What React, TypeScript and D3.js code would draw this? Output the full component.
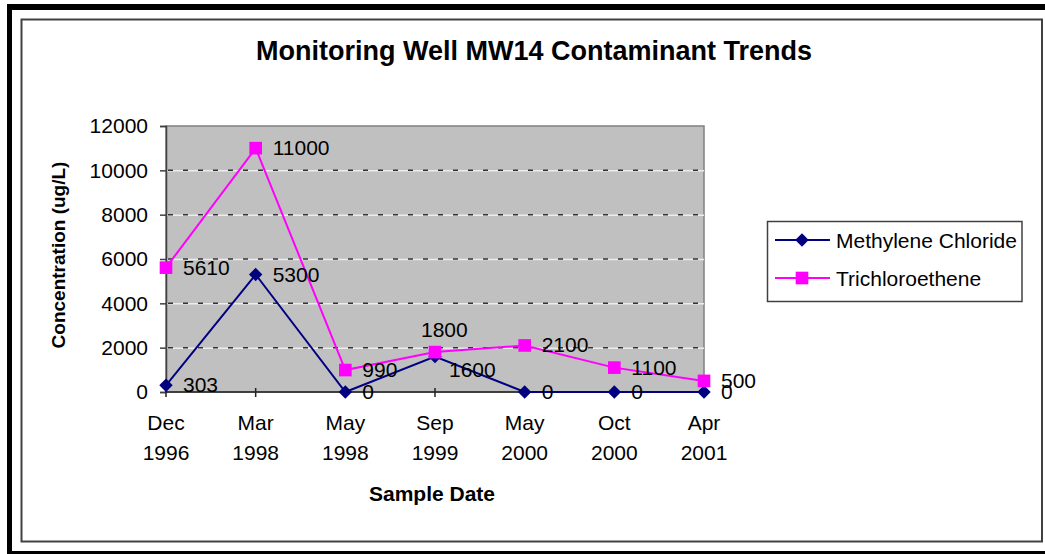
import React, { useEffect, useRef } from "react";
import * as d3 from "d3";

const months = ["Dec", "Mar", "May", "Sep", "May", "Oct", "Apr"];
const years = ["1996", "1998", "1998", "1999", "2000", "2000", "2001"];
const methyleneChloride = [303, 5300, 0, 1600, 0, 0, 0];
const trichloroethene = [5610, 11000, 990, 1800, 2100, 1100, 500];
const yTicks = [0, 2000, 4000, 6000, 8000, 10000, 12000];

// labels that were dragged by hand in the original (series, index, dx, dy)
const labelNudges = [
  { series: "tce", index: 3, dx: -31, dy: -22 },
  { series: "mc", index: 3, dx: -3, dy: 13 },
];

const FONT = "Liberation Sans, Arial, sans-serif";

// excel style diamond: as wide as it is tall
const diamond = {
  draw(ctx: d3.Path, size: number) {
    const r = Math.sqrt(size / 2);
    ctx.moveTo(0, -r);
    ctx.lineTo(r, 0);
    ctx.lineTo(0, r);
    ctx.lineTo(-r, 0);
    ctx.closePath();
  },
};

function App() {
  const svgRef = useRef<SVGSVGElement>(null);

  useEffect(() => {
    const svg = d3.select(svgRef.current);
    svg.selectAll("*").remove();

    const W = 1045;
    const plot = { left: 166, right: 704, top: 126, bottom: 392 };
    const cats = months.map((m, i) => `${m} ${years[i]}`);

    // frame
    svg.append("rect").attr("x", 7).attr("y", 4).attr("width", W).attr("height", 551).attr("fill", "#000");
    svg.append("rect").attr("x", 12).attr("y", 10).attr("width", W).attr("height", 541).attr("fill", "#fff");
    svg
      .append("rect")
      .attr("x", 21.5)
      .attr("y", 19.5)
      .attr("width", 1020.5)
      .attr("height", 522)
      .attr("fill", "none")
      .attr("stroke", "#404040")
      .attr("stroke-width", 2);

    const x = d3.scalePoint<string>().domain(cats).range([plot.left, plot.right]);
    const y = d3.scaleLinear().domain([0, 12000]).range([plot.bottom, plot.top]);

    // plot area
    svg
      .append("rect")
      .attr("x", plot.left)
      .attr("y", plot.top)
      .attr("width", plot.right - plot.left)
      .attr("height", plot.bottom - plot.top)
      .attr("fill", "#c0c0c0")
      .attr("stroke", "#808080")
      .attr("stroke-width", 1.5);

    // gridlines
    const grid = svg.append("g");
    yTicks
      .filter((t) => t > 0 && t < 12000)
      .forEach((t) => {
        grid
          .append("line")
          .attr("x1", plot.left)
          .attr("x2", plot.right)
          .attr("y1", y(t) + 0.5)
          .attr("y2", y(t) + 0.5)
          .attr("stroke", "#ececec")
          .attr("stroke-width", 1.5);
        grid
          .append("line")
          .attr("x1", plot.left + 2)
          .attr("x2", plot.right)
          .attr("y1", y(t))
          .attr("y2", y(t))
          .attr("stroke", "#333")
          .attr("stroke-width", 1.5)
          .attr("stroke-dasharray", "5,10");
      });

    // y axis
    const yAxis = svg
      .append("g")
      .attr("transform", `translate(${plot.left},0)`)
      .call(d3.axisLeft(y).tickValues(yTicks).tickSize(6).tickPadding(12).tickFormat(d3.format("d")));
    yAxis.select(".domain").attr("stroke", "#404040").attr("stroke-width", 1.5);
    yAxis.selectAll(".tick line").attr("stroke", "#404040").attr("stroke-width", 1.5);
    yAxis.selectAll("text").attr("font-family", FONT).attr("font-size", 21).attr("fill", "#000");

    // x axis
    svg
      .append("line")
      .attr("x1", plot.left)
      .attr("x2", plot.right)
      .attr("y1", plot.bottom)
      .attr("y2", plot.bottom)
      .attr("stroke", "#222")
      .attr("stroke-width", 1.5);
    const xAxis = svg.append("g");
    cats.forEach((c, i) => {
      xAxis
        .append("line")
        .attr("x1", x(c)!)
        .attr("x2", x(c)!)
        .attr("y1", plot.bottom - 4)
        .attr("y2", plot.bottom + 5)
        .attr("stroke", "#222")
        .attr("stroke-width", 1.5);
      const t = xAxis
        .append("text")
        .attr("x", x(c)!)
        .attr("text-anchor", "middle")
        .attr("font-family", FONT)
        .attr("font-size", 21);
      t.append("tspan").attr("x", x(c)!).attr("y", 430).text(months[i]);
      t.append("tspan").attr("x", x(c)!).attr("y", 460).text(years[i]);
    });

    // series
    const series = [
      { key: "mc", name: "Methylene Chloride", values: methyleneChloride, color: "#000080", shape: diamond, size: 90 },
      { key: "tce", name: "Trichloroethene", values: trichloroethene, color: "#ff00ff", shape: d3.symbolSquare, size: 160 },
    ];

    const line = d3
      .line<number>()
      .x((_, i) => x(cats[i])!)
      .y((d) => y(d));

    series.forEach((s) => {
      svg
        .append("path")
        .datum(s.values)
        .attr("d", line)
        .attr("fill", "none")
        .attr("stroke", s.color)
        .attr("stroke-width", 2);
    });

    series.forEach((s) => {
      svg
        .append("g")
        .selectAll("path")
        .data(s.values)
        .enter()
        .append("path")
        .attr("transform", (d, i) => `translate(${x(cats[i])},${y(d)})`)
        .attr("d", d3.symbol().type(s.shape).size(s.size)())
        .attr("fill", s.color);
    });

    // data labels
    series.forEach((s) => {
      svg
        .append("g")
        .selectAll("text")
        .data(s.values)
        .enter()
        .append("text")
        .attr("x", (d, i) => {
          const n = labelNudges.find((l) => l.series === s.key && l.index === i);
          return x(cats[i])! + 17 + (n ? n.dx : 0);
        })
        .attr("y", (d, i) => {
          const n = labelNudges.find((l) => l.series === s.key && l.index === i);
          return y(d) + 7 + (n ? n.dy : 0);
        })
        .attr("font-family", FONT)
        .attr("font-size", 21)
        .attr("fill", "#000")
        .text((d) => d);
    });

    // titles
    svg
      .append("text")
      .attr("x", 534)
      .attr("y", 60)
      .attr("text-anchor", "middle")
      .attr("font-family", FONT)
      .attr("font-weight", "bold")
      .attr("font-size", 27)
      .text("Monitoring Well MW14 Contaminant Trends");
    svg
      .append("text")
      .attr("x", 432)
      .attr("y", 501)
      .attr("text-anchor", "middle")
      .attr("font-family", FONT)
      .attr("font-weight", "bold")
      .attr("font-size", 21)
      .text("Sample Date");
    svg
      .append("text")
      .attr("transform", "translate(65,255) rotate(-90)")
      .attr("text-anchor", "middle")
      .attr("font-family", FONT)
      .attr("font-weight", "bold")
      .attr("font-size", 19)
      .text("Concentration (ug/L)");

    // legend
    const legend = svg.append("g");
    legend
      .append("rect")
      .attr("x", 767.5)
      .attr("y", 221.5)
      .attr("width", 254.5)
      .attr("height", 80)
      .attr("fill", "#fff")
      .attr("stroke", "#404040")
      .attr("stroke-width", 1.5);
    series.forEach((s, i) => {
      const ly = 240 + i * 38;
      legend
        .append("line")
        .attr("x1", 775)
        .attr("x2", 830)
        .attr("y1", ly)
        .attr("y2", ly)
        .attr("stroke", s.color)
        .attr("stroke-width", 2);
      legend
        .append("path")
        .attr("transform", `translate(802,${ly})`)
        .attr("d", d3.symbol().type(s.shape).size(s.size)())
        .attr("fill", s.color);
      legend
        .append("text")
        .attr("x", 836)
        .attr("y", ly + 7.5)
        .attr("font-family", FONT)
        .attr("font-size", 21)
        .text(s.name);
    });
  }, []);

  return (
    <svg
      ref={svgRef}
      width={1045}
      height={554}
      style={{ position: "absolute", left: 0, top: 0, background: "#fff" }}
    ></svg>
  );
}

export default App;
